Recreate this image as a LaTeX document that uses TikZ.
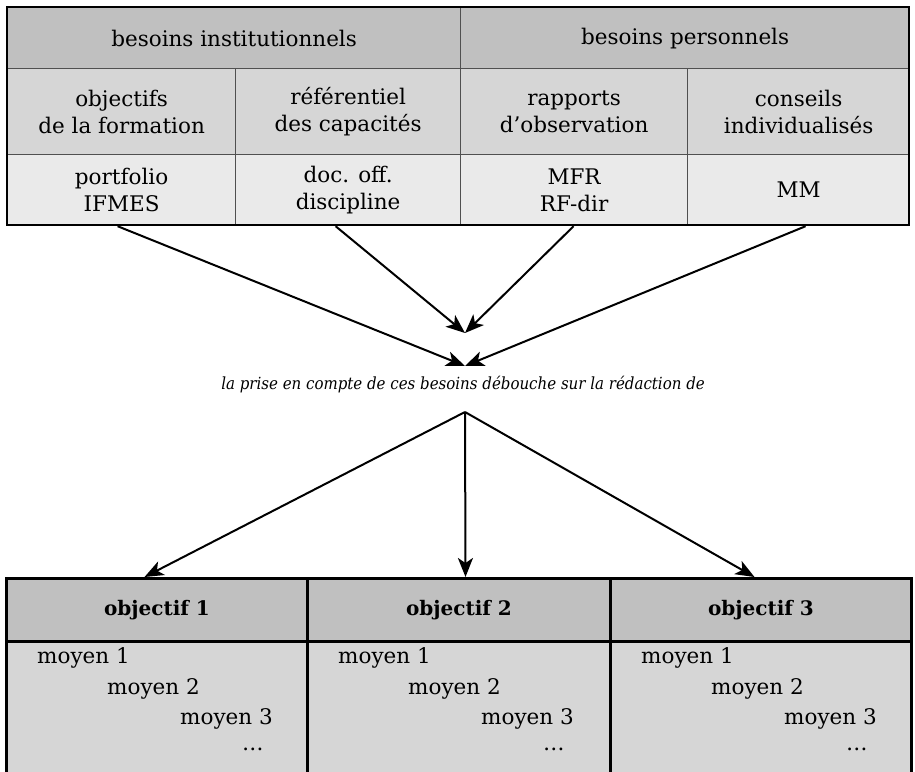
\documentclass[tikz,border=0pt]{standalone}
\usepackage{fontspec}
\setmainfont{DejaVu Serif}
\newfontfamily\condfont{DejaVu Serif Condensed}
\usetikzlibrary{arrows.meta}

\definecolor{rowA}{HTML}{C0C0C0}
\definecolor{rowB}{HTML}{D6D6D6}
\definecolor{rowC}{HTML}{EAEAEA}
\definecolor{gridgray}{HTML}{505050}

\tikzset{
  cell/.style={draw=gridgray, line width=1.2pt, anchor=north west, inner sep=0pt,
    align=center, font=\fontsize{21.5pt}{27pt}\selectfont},
  ocell/.style={draw=black, line width=3pt, anchor=north west, inner sep=0pt,
    align=center, font=\fontsize{20pt}{27pt}\selectfont\bfseries},
  item/.style={anchor=west, inner sep=0pt, font=\fontsize{21.5pt}{27pt}\selectfont},
  arr/.style={line width=2pt, -{Stealth[length=19pt, width=15pt, inset=5pt]}}
}

\begin{document}
\begin{tikzpicture}[x=1pt, y=-1pt]
        \useasboundingbox (0,0) rectangle (915,771);

        % besoins
        \node [cell, fill=rowA, minimum width=453pt, minimum height=61pt] (inst) at (7,7) {besoins institutionnels};
        \node [cell, fill=rowA, minimum width=449pt, minimum height=61pt] (pers) at (460,7) {besoins personnels};

        \node [cell, fill=rowB, minimum width=228pt, minimum height=86pt] (fa) at (7,68) {objectifs\\de la formation};
        \node [cell, fill=rowB, minimum width=225pt, minimum height=86pt] (fb) at (235,68) {référentiel\\des capacités};
        \node [cell, fill=rowB, minimum width=227pt, minimum height=86pt] (fc) at (460,68) {rapports\\d’observation};
        \node [cell, fill=rowB, minimum width=222pt, minimum height=86pt] (fd) at (687,68) {conseils\\individualisés};

        \node [cell, fill=rowC, minimum width=228pt, minimum height=71pt] (sa) at (7,154) {portfolio\\IFMES};
        \node [cell, fill=rowC, minimum width=225pt, minimum height=71pt] (sb) at (235,154) {doc. off.\\discipline};
        \node [cell, fill=rowC, minimum width=227pt, minimum height=71pt] (sc) at (460,154) {MFR\\RF-dir};
        \node [cell, fill=rowC, minimum width=222pt, minimum height=71pt] (sd) at (687,154) {MM};

        \draw [line width=2.4pt] (7,7) rectangle (909,225);

        % convergence
        \coordinate (meetA) at (465,333);
        \coordinate (meetB) at (465,366);
        \draw [arr] ([xshift=-4pt]sa.south) -- (meetB);
        \draw [arr] ([xshift=-12.5pt]sb.south) -- (meetA);
        \draw [arr] ([xshift=-0.5pt]sc.south) -- (meetA);
        \draw [arr] ([xshift=7pt]sd.south) -- (meetB);

        \node [inner sep=0pt, font=\fontsize{16.7pt}{27pt}\condfont\itshape] (prise) at (463,385) {la prise en compte de ces besoins débouche sur la rédaction de};
        \coordinate (fork) at (465,412);

        % objectifs
        \foreach \c/\x/\w in {1/5/301, 2/306/303, 3/609/301} {
            \node [ocell, fill=rowB, minimum width=\w pt, minimum height=160pt] (m\c) at (\x,640) {};
            \node [ocell, fill=rowA, minimum width=\w pt, minimum height=63pt] (o\c) at (\x,577) {objectif \c};
            \node [item] (m\c a) at (\x+32,658) {moyen 1};
            \node [item] (m\c b) at (\x+102,689) {moyen 2};
            \node [item] (m\c c) at (\x+175,719) {moyen 3};
            \node [item] (m\c d) at (\x+237,749) {\dots};
        }

        \draw [arr] (fork) -- ([xshift=-12.5pt]o1.north);
        \draw [arr] (fork) -- ([xshift=6.5pt]o2.north);
        \draw [arr] (fork) -- ([xshift=-6.5pt]o3.north);
\end{tikzpicture}
\end{document}
